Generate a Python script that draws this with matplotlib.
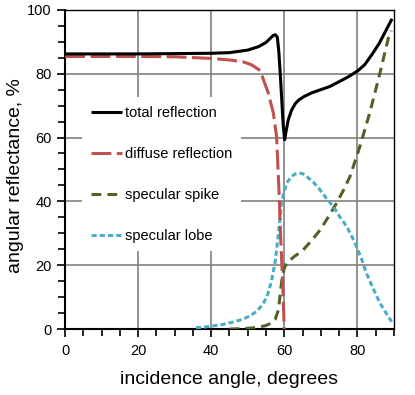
import matplotlib
matplotlib.use('Agg')
import matplotlib.pyplot as plt
from matplotlib.ticker import MultipleLocator

plt.rcParams['font.family'] = ['Liberation Sans', 'DejaVu Sans']

# values (angle in degrees, reflectance in %)
total_x = [0, 10, 20, 30, 40, 45, 50, 53, 55, 56, 57, 57.6, 58.1, 58.5, 58.9, 59.3, 59.7, 60.1,
           60.5, 61.1, 62.0, 63.0, 64.0, 65.5, 67.5, 70.0, 72.5, 75.0, 77.5, 80.0, 82.0,
           84.0, 86.0, 87.5, 89.5]
total_y = [86.2, 86.2, 86.2, 86.3, 86.4, 86.6, 87.4, 88.5, 89.8, 90.9, 92.0, 92.2, 91.4, 87.0,
           80.0, 72.0, 64.0, 59.3, 62.0, 65.6, 68.6, 70.6, 71.8, 72.9, 74.0, 75.0, 76.0,
           77.5, 79.0, 80.8, 82.8, 86.0, 89.5, 92.8, 97.2]

diffuse_x = [0, 10, 20, 30, 40, 45, 48.8, 51, 53.4, 55.6, 57.0, 57.9, 58.5, 59.0, 59.6, 60.0]
diffuse_y = [85.4, 85.4, 85.4, 85.3, 84.8, 84.3, 83.7, 82.8, 81.0, 74.0, 67.7, 60.3, 44.7, 29.0, 13.3, 0]

spike_x = [45, 48, 51, 53, 55, 56.5, 57.5, 58.4, 58.9, 59.4, 60.0, 60.6, 62.5, 65.2, 67.5, 69.8,
           72.0, 74.3, 76.2, 78.0, 80.7, 83.4, 86.2, 88.5, 89.3]
spike_y = [0, 0.1, 0.3, 0.6, 1.1, 1.9, 3.0, 6.0, 11.0, 16.0, 19.0, 20.6, 22.5, 24.8, 27.8, 31.0,
           35.0, 39.4, 43.5, 47.8, 57.2, 67.7, 80.2, 91.2, 93.5]

lobe_x = [35.8, 38, 40, 43, 46, 48.5, 50.6, 52.5, 54.3, 55.5, 56.5, 57.5, 58.4, 59.3, 60.6,
          62.0, 63.0, 63.8, 65.0, 66.1, 68.0, 69.8, 71.5, 73.4, 75.2, 77.1, 78.5, 79.8,
          81.2, 82.5, 84.3, 86.2, 88.0, 89.4]
lobe_y = [0.4, 0.6, 0.9, 1.4, 2.2, 3.0, 4.1, 5.6, 8.0, 11.0, 15.0, 21.0, 30.0, 40.0, 45.7,
          47.8, 48.6, 48.9, 48.7, 47.8, 46.0, 43.6, 41.0, 38.4, 35.2, 32.1, 29.0, 25.8,
          21.8, 17.5, 12.8, 8.1, 4.8, 2.3]

fig = plt.figure(figsize=(4.15, 3.95), dpi=100)
ax = fig.add_axes([0.157, 0.167, 0.792, 0.808])

ax.plot(total_x, total_y, color='black', lw=2.2, label='total reflection',
        solid_capstyle='butt', zorder=5)
ax.plot(diffuse_x, diffuse_y, color='#c0504d', lw=2.2, dashes=(6.5, 1.8),
        label='diffuse reflection', zorder=4)
ax.plot(spike_x, spike_y, color='#4f6228', lw=2.2, dashes=(3.2, 2.0),
        label='specular spike', zorder=3)
ax.plot(lobe_x, lobe_y, color='#4bacc6', lw=2.2, dashes=(1.7, 1.0),
        label='specular lobe', zorder=3)

ax.set_xlim(0, 90)
ax.set_ylim(0, 100)
ax.xaxis.set_major_locator(MultipleLocator(20))
ax.xaxis.set_minor_locator(MultipleLocator(5))
ax.yaxis.set_major_locator(MultipleLocator(20))
ax.yaxis.set_minor_locator(MultipleLocator(5))
ax.grid(True, which='major', color='#808080', lw=1.2)
ax.set_axisbelow(True)

ax.tick_params(which='major', direction='out', length=6, width=1.2, labelsize=10.5)
ax.tick_params(which='minor', direction='out', length=5, width=1.2)
ax.tick_params(axis='x', pad=5)
for s in ['left', 'bottom']:
    ax.spines[s].set_linewidth(1.5)
for s in ['top', 'right']:
    ax.spines[s].set_linewidth(1.0)

ax.set_xlabel('incidence angle, degrees', fontsize=14, labelpad=9)
ax.set_ylabel('angular reflectance, %', fontsize=14)
ax.yaxis.set_label_coords(-0.125, 0.48)

leg = ax.legend(loc='upper left', bbox_to_anchor=(0.03, 0.75), fontsize=10.5,
                handlelength=2.1, handletextpad=0.2, labelspacing=1.85,
                borderpad=0.6, frameon=True, fancybox=False)
leg.get_frame().set_facecolor('white')
leg.get_frame().set_edgecolor('none')
leg.get_frame().set_alpha(1)

fig.savefig('out.png', dpi=100)
